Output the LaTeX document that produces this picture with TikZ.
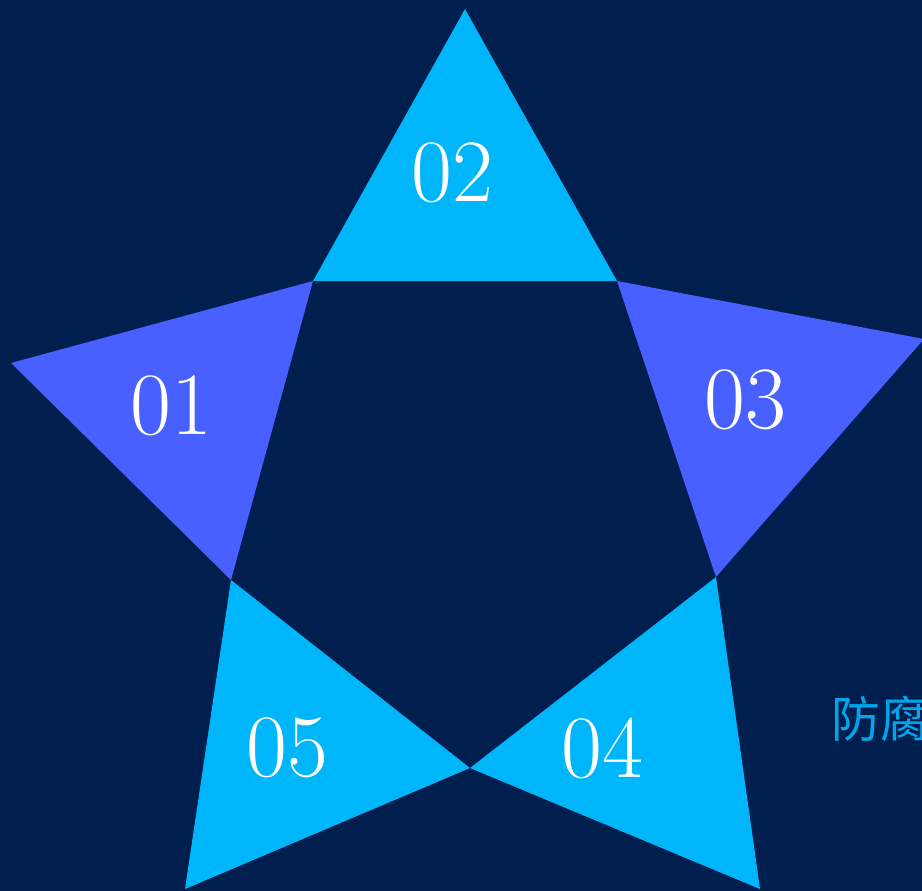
\documentclass[tikz,border=0pt]{standalone}
\usepackage{fontspec}
\newfontfamily\cjk{Noto Sans CJK SC}
\definecolor{bgdark}{RGB}{0,30,78}
\definecolor{cyanfill}{RGB}{0,182,250}
\definecolor{bluefill}{RGB}{72,96,255}
\definecolor{cjktext}{RGB}{0,165,235}
\begin{document}
\begin{tikzpicture}[x=1pt,y=-1pt,
  numlabel/.style={text=white,font=\fontsize{89}{89}\selectfont,inner sep=0pt},
  cyantri/.style={fill=cyanfill,draw=none},
  bluetri/.style={fill=bluefill,draw=none}]
\fill[bgdark] (0,0) rectangle (922,891);
\useasboundingbox (0,0) rectangle (922,891);
\begin{scope}
\clip (0,0) rectangle (922,891);
% inner pentagon vertices
\coordinate (pTL) at (313,281);
\coordinate (pTR) at (617,281);
\coordinate (pR) at (716,577);
\coordinate (pB) at (470,768);
\coordinate (pL) at (231,580);
% outer tips
\coordinate (tTop) at (465,9);
\coordinate (tLeft) at (11,363);
\coordinate (tRight) at (924,339);
\coordinate (tBL) at (185,889);
\coordinate (tBR) at (760,889);
\fill[cyantri] (pTL) -- (tTop) -- (pTR) -- cycle;
\fill[bluetri] (pTL) -- (tLeft) -- (pL) -- cycle;
\fill[bluetri] (pTR) -- (tRight) -- (pR) -- cycle;
\fill[cyantri] (pL) -- (tBL) -- (pB) -- cycle;
\fill[cyantri] (pR) -- (tBR) -- (pB) -- cycle;
\node[numlabel] (n02) at (452,173) {02};
\node[numlabel] (n01) at (171,406) {01};
\node[numlabel] (n03) at (745,400) {03};
\node[numlabel] (n05) at (287,748) {05};
\node[numlabel] (n04) at (602,748) {04};
\node[anchor=west,inner sep=0pt,text=cjktext,font=\cjk\fontsize{49}{49}\selectfont] (cjklabel) at (831,719) {防腐};
\end{scope}
\end{tikzpicture}
\end{document}
